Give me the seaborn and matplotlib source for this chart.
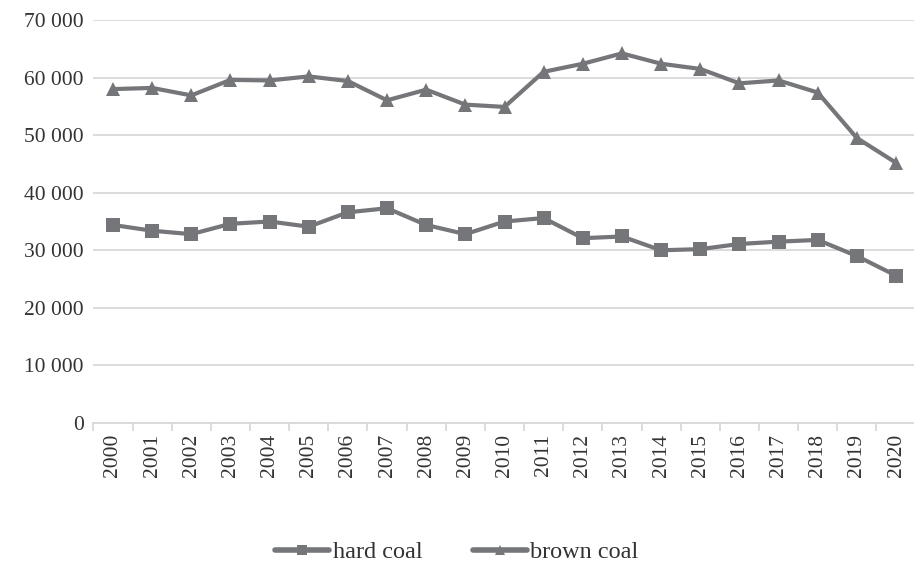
import matplotlib
matplotlib.use("Agg")
import matplotlib.pyplot as plt
from matplotlib.ticker import FuncFormatter, FixedLocator
import seaborn as sns
import pandas as pd

years = [str(y) for y in range(2000, 2021)]
hard_coal = [34400, 33400, 32800, 34600, 35000, 34100, 36600, 37300, 34400, 32800,
             35000, 35600, 32100, 32400, 30000, 30200, 31100, 31500, 31800, 29000, 25600]
brown_coal = [58000, 58200, 56900, 59600, 59500, 60200, 59400, 56050, 57900, 55300,
              54900, 61000, 62400, 64200, 62400, 61500, 59000, 59500, 57400, 49500, 45200]
series_names = ["hard coal", "brown coal"]

df = pd.DataFrame({
    "pos": list(range(len(years))) * 2,
    "value": hard_coal + brown_coal,
    "series": [series_names[0]] * len(years) + [series_names[1]] * len(years),
})

sns.set_theme(style="white")
plt.rcParams["font.family"] = ["Liberation Serif", "DejaVu Serif"]

line_col = "#757679"
grid_col = "#d9d9d9"
text_col = "#333333"

fig = plt.figure(figsize=(9.14, 5.65), dpi=100)
ax = fig.add_axes([93.4 / 914, 1 - 423 / 565, 822.2 / 914, (423 - 20) / 565])

sns.lineplot(
    data=df, x="pos", y="value", hue="series", style="series",
    palette={n: line_col for n in series_names},
    markers={"hard coal": "s", "brown coal": "^"},
    dashes=False, linewidth=3.0, markersize=9.5, markeredgewidth=0,
    ax=ax, legend=True, clip_on=False, zorder=3,
)

ax.set_xlim(-0.5, len(years) - 0.5)
ax.set_ylim(0, 70000)
ax.yaxis.set_major_locator(FixedLocator(range(0, 70001, 10000)))
ax.yaxis.set_major_formatter(FuncFormatter(lambda v, _: f"{int(v):,}".replace(",", " ")))
ax.grid(axis="y", color=grid_col, linewidth=1.3, zorder=0)
ax.set_axisbelow(True)

ax.set_xticks(range(len(years)))
ax.set_xticklabels(years, rotation=90)
ax.set_xticks([i - 0.5 for i in range(len(years) + 1)], minor=True)
ax.tick_params(axis="x", which="major", length=0, pad=8, labelsize=15.5, labelcolor=text_col)
ax.tick_params(axis="x", which="minor", length=6, width=1.3, color=grid_col, bottom=True)
ax.tick_params(axis="y", length=0, pad=7, labelsize=15.5, labelcolor=text_col)

for side in ["top", "right", "left"]:
    ax.spines[side].set_visible(False)
ax.spines["bottom"].set_color(grid_col)
ax.spines["bottom"].set_linewidth(1.3)
ax.set_xlabel("")
ax.set_ylabel("")

handles, labels = ax.get_legend_handles_labels()
ax.get_legend().remove()
leg = fig.legend(handles, labels, loc="lower center", bbox_to_anchor=(0.5, -0.036), ncol=2,
                 frameon=False, fontsize=17.5, handlelength=2.2, handletextpad=0.15,
                 columnspacing=2.1, markerscale=0.75, labelcolor=text_col)
for h in leg.legend_handles:
    h.set_linewidth(4.0)

fig.savefig("out.png", dpi=100)
